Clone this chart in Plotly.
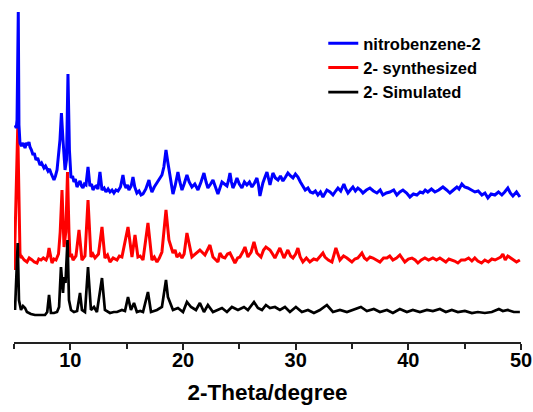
import plotly.graph_objects as go

# 2-Theta (degree) and intensity (a.u., offset stacked)
blue_x = [5.09, 5.20, 5.27, 5.38, 5.44, 5.53, 5.66, 5.80, 5.98, 6.10, 6.24, 6.33, 6.42, 6.55, 6.69,
          6.80, 6.95, 7.10, 7.31, 7.45, 7.66, 7.80, 8.02, 8.15, 8.28, 8.40, 8.55, 8.68, 8.82, 9.08,
          9.21, 9.35, 9.53, 9.66, 9.79, 9.92, 10.06, 10.20, 10.32, 10.45, 10.59, 10.72, 10.86, 11.00,
          11.12, 11.25, 11.39, 11.57, 11.74, 11.88, 12.01, 12.15, 12.28, 12.45, 12.63, 12.81, 13.00,
          13.16, 13.35, 13.52, 13.70, 13.87, 14.05, 14.23, 14.45, 14.67, 14.80, 14.94, 15.08, 15.20,
          15.40, 15.56, 15.72, 15.91, 16.10, 16.28, 16.45, 16.70, 16.98, 17.10, 17.24, 17.45, 17.69,
          17.90, 18.13, 18.30, 18.49, 18.65, 18.84, 18.97, 19.11, 19.30, 19.55, 19.72, 19.91, 20.10,
          20.35, 20.55, 20.79, 21.05, 21.33, 21.60, 21.86, 22.05, 22.21, 22.45, 22.66, 22.88, 23.10,
          23.28, 23.46, 23.68, 23.90, 24.05, 24.17, 24.30, 24.43, 24.60, 24.79, 25.00, 25.23, 25.45,
          25.67, 25.90, 26.12, 26.35, 26.56, 26.70, 26.83, 26.95, 27.09, 27.28, 27.45, 27.60, 27.72,
          27.85, 27.98, 28.20, 28.43, 28.65, 28.87, 29.10, 29.31, 29.55, 29.76, 29.98, 30.20, 30.42,
          30.64, 30.85, 31.09, 31.30, 31.53, 31.75, 31.97, 32.20, 32.42, 32.60, 32.77, 33.05, 33.31,
          33.55, 33.75, 34.00, 34.28, 34.45, 34.64, 34.85, 35.08, 35.30, 35.52, 35.75, 35.97, 36.28,
          36.59, 36.90, 37.21, 37.50, 37.74, 38.05, 38.36, 38.70, 38.98, 39.25, 39.52, 39.85, 40.14,
          40.45, 40.76, 41.05, 41.29, 41.50, 41.73, 42.05, 42.36, 42.70, 43.07, 43.40, 43.69, 44.00,
          44.31, 44.50, 44.75, 45.00, 45.28, 45.60, 45.91, 46.20, 46.53, 46.80, 47.06, 47.35, 47.68,
          48.00, 48.30, 48.55, 48.83, 49.05, 49.28, 49.60, 49.90]
blue_y = [217, 214, 222, 330, 217, 199, 196, 199, 194, 199, 197, 200, 195, 192, 187,
          189, 182, 184, 177, 179, 174, 176, 171, 173, 169, 166, 162, 166, 172, 202,
          229, 202, 172, 182, 268, 192, 164, 166, 160, 163, 155, 158, 161, 156,
          154, 158, 157, 175, 156, 158, 152, 155, 156, 153, 170, 152, 154,
          150, 153, 150, 152, 149, 152, 151, 155, 167, 158, 154, 157, 152,
          156, 165, 155, 149, 151, 147, 148, 153, 162, 155, 150, 155, 159,
          162, 167, 175, 192, 180, 165, 156, 148, 156, 170, 160, 152, 158,
          167, 160, 155, 158, 152, 160, 169, 160, 154, 158, 162, 155, 148,
          154, 160, 158, 156, 162, 169, 160, 154, 158, 164, 158, 154, 160,
          157, 160, 155, 159, 164, 157, 146, 152, 159, 165, 170, 163, 157,
          163, 169, 164, 162, 166, 161, 165, 169, 166, 164, 168, 165, 160,
          156, 152, 154, 150, 149, 151, 147, 150, 145, 149, 152, 150, 147,
          151, 154, 151, 158, 153, 149, 152, 155, 151, 154, 152, 149, 152,
          154, 151, 149, 152, 147, 149, 150, 152, 147, 150, 152, 149, 145,
          148, 147, 150, 149, 152, 150, 153, 150, 152, 155, 152, 149, 152,
          155, 153, 158, 155, 154, 152, 150, 151, 147, 149, 144, 148, 147,
          150, 147, 150, 154, 149, 146, 150, 145]

red_x = [5.02, 5.13, 5.33, 5.53, 5.62, 5.71, 5.90, 6.15, 6.35, 6.60, 6.80, 7.04, 7.20, 7.40, 7.60,
         7.85, 8.00, 8.11, 8.22, 8.37, 8.55, 8.73, 8.95, 9.10, 9.26, 9.44, 9.60, 9.75, 9.88, 9.97,
         10.10, 10.24, 10.50, 10.77, 11.03, 11.30, 11.57, 11.83, 12.00, 12.19, 12.50, 12.81, 13.07,
         13.30, 13.52, 13.80, 14.14, 14.35, 14.58, 15.12, 15.47, 15.74, 16.00, 16.20, 16.45, 16.89,
         17.24, 17.45, 17.69, 17.90, 18.13, 18.49, 18.75, 19.11, 19.30, 19.46, 19.70, 19.91, 20.10,
         20.35, 20.79, 21.15, 21.50, 21.95, 22.39, 22.66, 22.90, 23.10, 23.28, 23.50, 23.72, 23.95,
         24.17, 24.40, 24.61, 24.85, 25.05, 25.30, 25.50, 25.76, 26.05, 26.30, 26.56, 26.92, 27.15,
         27.36, 27.72, 27.95, 28.16, 28.60, 28.96, 29.31, 29.55, 29.76, 30.00, 30.20, 30.40, 30.64,
         30.95, 31.26, 31.60, 31.89, 32.15, 32.42, 32.60, 32.90, 33.22, 33.57, 33.93, 34.25, 34.55,
         34.99, 35.25, 35.52, 35.88, 36.10, 36.32, 36.60, 36.86, 37.15, 37.48, 37.80, 38.10, 38.35,
         38.63, 38.95, 39.25, 39.69, 40.00, 40.32, 40.60, 40.85, 41.15, 41.47, 41.80, 42.18, 42.50,
         42.80, 43.05, 43.33, 43.60, 43.86, 44.10, 44.40, 44.70, 45.02, 45.35, 45.64, 45.90, 46.17,
         46.50, 46.79, 47.10, 47.41, 47.70, 48.04, 48.20, 48.39, 48.60, 48.83, 49.10, 49.36, 49.60,
         49.90]
red_y = [72, 122, 214, 89, 84, 85, 82, 80, 84, 82, 80, 79, 83, 82, 84,
         82, 86, 94, 86, 79, 83, 82, 88, 110, 152, 95, 110, 170, 110, 85,
         88, 82, 86, 112, 82, 86, 142, 85, 88, 84, 88, 115, 84,
         87, 80, 84, 82, 86, 85, 115, 85, 107, 85, 86, 82, 119,
         82, 85, 80, 84, 90, 132, 102, 89, 92, 85, 88, 84, 88,
         109, 85, 89, 92, 87, 97, 85, 82, 80, 89, 85, 84, 88,
         89, 84, 79, 84, 85, 90, 95, 85, 90, 100, 89, 85, 92,
         95, 92, 88, 84, 94, 84, 92, 86, 84, 88, 94, 85, 80,
         84, 80, 83, 82, 86, 89, 85, 82, 80, 94, 82, 86, 84,
         80, 83, 84, 89, 84, 82, 85, 84, 82, 80, 84, 84, 86,
         82, 84, 87, 80, 83, 84, 82, 79, 82, 84, 82, 84, 82,
         84, 82, 80, 83, 82, 81, 79, 82, 82, 84, 81, 84, 81, 79,
         82, 80, 83, 82, 84, 85, 88, 82, 86, 84, 82, 80, 82,
         79]

black_x = [5.09, 5.33, 5.44, 5.62, 5.80, 5.98, 6.15, 6.50, 6.86, 7.30, 7.75, 7.95, 8.11, 8.28, 8.55,
           8.82, 9.00, 9.17, 9.35, 9.44, 9.57, 9.75, 9.88, 10.06, 10.32, 10.60, 10.86, 11.03, 11.30,
           11.57, 11.83, 12.10, 12.36, 12.81, 13.07, 13.52, 13.85, 14.14, 14.58, 14.85, 15.12, 15.38,
           15.65, 15.91, 16.20, 16.45, 16.89, 17.16, 17.45, 17.69, 18.13, 18.49, 18.66, 18.84, 19.11,
           19.55, 20.00, 20.35, 20.71, 21.15, 21.50, 21.86, 22.21, 22.66, 23.10, 23.46, 23.90, 24.34,
           24.88, 25.41, 25.76, 26.30, 26.65, 27.01, 27.36, 27.72, 28.16, 28.60, 29.05, 29.49, 30.02,
           30.55, 31.09, 31.62, 32.15, 32.77, 33.31, 33.93, 34.55, 35.26, 35.79, 36.32, 36.94, 37.48,
           38.10, 38.63, 39.25, 39.87, 40.40, 41.03, 41.65, 42.18, 42.80, 43.33, 43.86, 44.40, 45.02,
           45.64, 46.17, 46.79, 47.41, 48.04, 48.39, 48.83, 49.36, 49.90]
black_y = [32, 99, 42, 32, 36, 34, 30, 28, 27, 27, 27, 30, 47, 29, 29,
           30, 35, 75, 49, 65, 59, 102, 42, 32, 30, 31, 49, 32, 30,
           75, 32, 35, 30, 64, 32, 29, 30, 30, 32, 31, 45, 32,
           39, 30, 31, 30, 50, 30, 31, 32, 35, 62, 45, 40, 32,
           34, 30, 40, 35, 32, 39, 30, 37, 30, 32, 34, 30, 35,
           32, 35, 32, 40, 34, 32, 37, 34, 35, 32, 35, 30, 35,
           30, 32, 29, 32, 37, 30, 32, 30, 33, 35, 31, 33, 30,
           32, 29, 33, 30, 32, 30, 32, 31, 33, 30, 32, 30, 31,
           29, 30, 29, 30, 33, 31, 32, 30, 30]

names = ["nitrobenzene-2", "2- synthesized", "2- Simulated"]
colors = ["#0000FF", "#FF0000", "#000000"]
x_ticks = [10, 20, 30, 40, 50]
x_minor = [5, 15, 25, 35, 45]

FONT = "Liberation Sans, Arial, sans-serif"

fig = go.Figure()
fig.add_trace(go.Scatter(x=red_x, y=red_y, mode="lines", name=names[1], legendrank=2,
                         line=dict(color=colors[1], width=3)))
fig.add_trace(go.Scatter(x=black_x, y=black_y, mode="lines", name=names[2], legendrank=3,
                         line=dict(color=colors[2], width=2.7)))
fig.add_trace(go.Scatter(x=blue_x, y=blue_y, mode="lines", name=names[0], legendrank=1,
                         line=dict(color=colors[0], width=3)))

fig.update_layout(
    width=533, height=412,
    margin=dict(l=14, r=12, t=10, b=70, autoexpand=False),
    paper_bgcolor="white", plot_bgcolor="white",
    showlegend=True,
    legend=dict(x=0.61, y=0.952, xanchor="left", yanchor="top",
                font=dict(family=FONT, size=16.5, color="#000000", weight="bold"),
                bgcolor="rgba(0,0,0,0)", tracegroupgap=1, itemwidth=30),
    xaxis=dict(range=[5, 50], tickvals=x_ticks, ticks="outside", ticklen=6, tickwidth=2,
               tickcolor="#222222", showline=True, linecolor="#222222", linewidth=2,
               showgrid=False, zeroline=False, automargin=False, ticklabelstandoff=-7,
               minor=dict(tickvals=x_minor, ticks="outside", ticklen=5,
                          tickwidth=2, tickcolor="#222222", showgrid=False),
               tickfont=dict(family=FONT, size=20, color="#000000", weight="bold"),
               title=dict(text="2-Theta/degree", standoff=14,
                          font=dict(family=FONT, size=22.5, color="#000000", weight="bold"))),
    yaxis=dict(range=[0, 332], visible=False, showgrid=False, zeroline=False),
)

fig.write_html("out.html")
